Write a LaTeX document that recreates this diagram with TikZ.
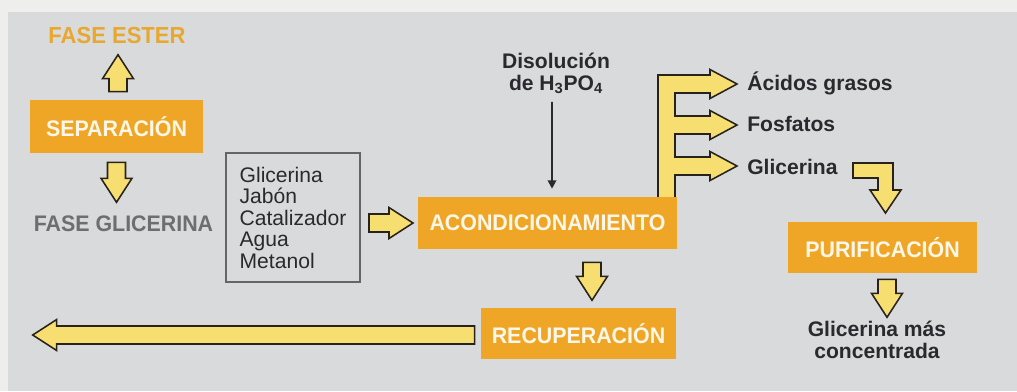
\documentclass[tikz,border=0pt]{standalone}
\usepackage{fontspec}
\setmainfont{Liberation Sans}
\newfontfamily\narrowsans[FakeStretch=0.95]{Liberation Sans}
\usetikzlibrary{calc,arrows.meta,backgrounds}

\definecolor{paper}{RGB}{238,238,236}
\definecolor{panel}{RGB}{217,218,219}
\definecolor{boxorange}{RGB}{239,166,38}
\definecolor{boxtext}{RGB}{252,247,232}
\definecolor{arrowfill}{RGB}{246,222,112}
\definecolor{arrowline}{RGB}{40,34,28}
\definecolor{esterorange}{RGB}{232,168,48}
\definecolor{phasegray}{RGB}{108,110,112}
\definecolor{inkdark}{RGB}{42,42,46}
\definecolor{framegray}{RGB}{98,102,106}

% fat block arrow: tail point, rotation, length (px)
\newcommand{\fatarrow}[3]{%
\path [fat, shift={(#1)}, rotate=#2] (0,9) -- (#3-24,9) -- (#3-24,15.5) -- (#3,0)
-- (#3-24,-15.5) -- (#3-24,-9) -- (0,-9) -- cycle;}

\begin{document}
\begin{tikzpicture}
[x=0.025cm, y=-0.025cm,
stage/.style ={rectangle, fill=boxorange, text=boxtext, inner sep=0pt,
font=\narrowsans\bfseries\fontsize{16}{18}\selectfont},
phase/.style ={inner sep=0pt, anchor=base,
font=\narrowsans\bfseries\fontsize{16.5}{18}\selectfont},
mixbox/.style ={rectangle, draw=framegray, line width=1.4pt, align=left,
text=inkdark, inner sep=0pt, minimum width=3.35cm, minimum height=3.225cm,
font=\fontsize{15}{15.3}\selectfont},
product/.style ={inner sep=0pt, text=inkdark,
font=\bfseries\fontsize{15}{15.2}\selectfont},
fat/.style ={draw=arrowline, fill=arrowfill, line width=1.1pt, line join=miter},
feed/.style ={draw=inkdark, line width=1.4pt, -{Triangle[length=6pt,width=6pt]}}]
\useasboundingbox (0,0) rectangle (1017,391);

% left column
\node [phase, text=esterorange] (ester) at (117,43) {FASE ESTER};
\node [stage, minimum width=4.325cm, minimum height=1.325cm] (sep) at (116.5,126.5) {SEPARACIÓN};
\node [phase, text=phasegray, font=\narrowsans\bfseries\fontsize{16}{18}\selectfont]
(glic) at (123.5,231) {FASE GLICERINA};
\node [mixbox] (mix) at (293,217.5) {Glicerina\\Jabón\\Catalizador\\Agua\\Metanol};

% middle
\node [product, align=center, anchor=base] (disol) at (556,90) {Disolución\\de H\textsubscript{3}PO\textsubscript{4}};
\node [stage, minimum width=6.475cm, minimum height=1.3cm] (acond) at (547.5,223) {ACONDICIONAMIENTO};
\node [stage, minimum width=4.875cm, minimum height=1.275cm] (recu) at (578.5,333.5) {RECUPERACIÓN};

% right
\node [product, anchor=base west] (acidos) at (747,90) {Ácidos grasos};
\node [product, anchor=base west] (fosf) at (747,131) {Fosfatos};
\node [product, anchor=base west] (glicl) at (747,174) {Glicerina};
\node [stage, minimum width=4.725cm, minimum height=1.275cm] (purif) at (882.5,247.5) {PURIFICACIÓN};
\node [product, align=center, anchor=base] (conc) at (877,358) {Glicerina más\\concentrada};

\begin{scope}[on background layer]
\fill [paper] (0,0) rectangle (1017,391);
\fill [panel] (8,12) rectangle (1017,391);
\fatarrow{$(sep.north)+(1.5,-8)$}{90}{37}
\fatarrow{$(sep.south)+(0,9)$}{-90}{40}
\fatarrow{$(mix.east |- acond.west)+(8,0)$}{0}{44}
\fatarrow{$(acond.south)+(44.5,13)$}{-90}{38}
\fatarrow{$(recu.west)+(-6,1.5)$}{180}{442}
\fatarrow{$(purif.south)+(4.5,6)$}{-90}{38}
% split towards the three products
\path [fat] (658,199) -- (658,75) -- (710,75) -- (710,69.5) -- (737,84) -- (710,98.5)
-- (710,93) -- (675,93) -- (675,116) -- (710,116) -- (710,110.5) -- (737,125)
-- (710,139.5) -- (710,134) -- (675,134) -- (675,157) -- (710,157) -- (710,151.5)
-- (737,166) -- (710,180.5) -- (710,175) -- (675,175) -- (675,199) -- cycle;
% glicerina to purificacion
\path [fat] (853,163) -- (893,163) -- (893,190) -- (901,190) -- (885.5,213)
-- (870,190) -- (878,190) -- (878,178) -- (853,178) -- cycle;
\end{scope}

\draw [feed] ($(disol.south)+(-4,8)$) -- ($(acond.north)+(4.5,-8)$);
\end{tikzpicture}
\end{document}
